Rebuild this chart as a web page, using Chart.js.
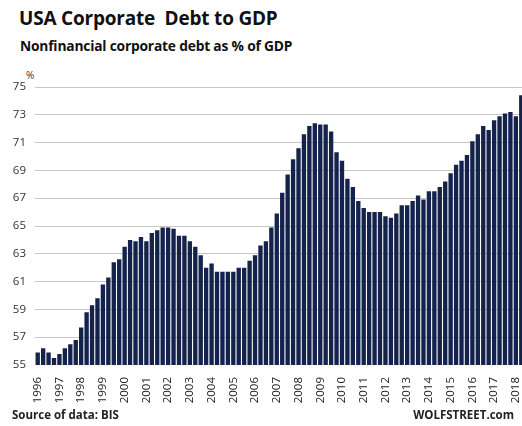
<!DOCTYPE html>
<html>
<head>
<meta charset="utf-8">
<script src="https://cdn.jsdelivr.net/npm/chart.js@4.4.1/dist/chart.umd.min.js"></script>
<style>
  html, body { margin: 0; padding: 0; background: #fff; overflow: hidden; }
  body { width: 522px; height: 426px; position: relative; font-family: "Open Sans", sans-serif; color: #111; }
  #wrap { position: absolute; left: 0; top: 0; width: 524px; height: 426px; }
  .txt { position: absolute; font-weight: bold; white-space: nowrap; }
  #title { left: 19px; top: 5px; font-size: 19px; letter-spacing: -0.2px; }
  #subtitle { left: 20px; top: 36px; font-size: 13.8px; letter-spacing: -0.2px; }
  #unit { left: 26px; top: 68px; font-size: 10px; font-weight: normal; color: #333; }
  #source { left: 12px; top: 407px; font-size: 11.5px; color: #222; }
  #brand { right: 8px; top: 407px; font-size: 11.5px; color: #222; }
</style>
</head>
<body>
<div class="txt" id="title">USA Corporate&nbsp; Debt to GDP</div>
<div class="txt" id="subtitle">Nonfinancial corporate debt as % of GDP</div>
<div class="txt" id="unit">%</div>
<div id="wrap"><canvas id="DebtChart" width="524" height="426"></canvas></div>
<div class="txt" id="source">Source of data: BIS</div>
<div class="txt" id="brand">WOLFSTREET.com</div>
<script>
    // quarterly, 1996 Q1 .. 2018 Q2
    var years = ['1996', '1997', '1998', '1999', '2000', '2001', '2002', '2003', '2004', '2005', '2006',
        '2007', '2008', '2009', '2010', '2011', '2012', '2013', '2014', '2015', '2016', '2017', '2018'];
    var quarters = ['Q1', 'Q2', 'Q3', 'Q4'];

    var debtToGdp = [
        55.9, 56.2, 55.9, 55.5, 55.8, 56.2, 56.5, 56.8,   // 1996-97
        57.7, 58.8, 59.3, 59.8, 60.8, 61.3, 62.4, 62.6,   // 1998-99
        63.5, 64.0, 63.9, 64.2, 63.9, 64.5, 64.7, 64.9,   // 2000-01
        64.9, 64.8, 64.3, 64.3, 63.9, 63.5, 62.9, 62.0,   // 2002-03
        62.3, 61.7, 61.7, 61.7, 61.7, 62.0, 62.0, 62.5,   // 2004-05
        62.9, 63.6, 63.9, 64.9, 65.9, 67.4, 68.7, 69.8,   // 2006-07
        70.6, 71.6, 72.2, 72.4, 72.3, 72.3, 71.8, 70.3,   // 2008-09
        69.7, 68.4, 67.8, 66.8, 66.3, 66.0, 66.0, 66.0,   // 2010-11
        65.7, 65.6, 65.9, 66.5, 66.5, 66.8, 67.2, 66.9,   // 2012-13
        67.5, 67.5, 67.8, 68.2, 68.8, 69.4, 69.7, 70.1,   // 2014-15
        71.1, 71.6, 72.2, 71.9, 72.6, 72.9, 73.1, 73.2,   // 2016-17
        72.9, 74.4                                        // 2018
    ];

    var yTicks = [55, 57, 59, 61, 63, 65, 67, 69, 71, 73, 75];

    var labels = [];
    years.forEach(function (y) {
        quarters.forEach(function (q) { labels.push(y + ' ' + q); });
    });
    labels = labels.slice(0, debtToGdp.length);

    var tickFont = { family: 'Open Sans', size: 11.5 };

    new Chart(document.getElementById('DebtChart'), {
        type: 'bar',
        data: {
            labels: labels,
            datasets: [{
                data: debtToGdp,
                backgroundColor: '#14224c',
                barPercentage: 0.8,
                categoryPercentage: 1.0
            }]
        },
        options: {
            responsive: false,
            animation: false,
            layout: { padding: { top: 87, right: 0, bottom: 0, left: 0 } },
            plugins: { legend: { display: false }, tooltip: { enabled: false } },
            scales: {
                x: {
                    grid: { display: false },
                    border: { display: false },
                    afterFit: function (scale) {
                        scale.height = 61;
                        scale.paddingLeft = 0;
                        scale.paddingRight = 0;
                    },
                    ticks: {
                        autoSkip: false,
                        minRotation: 90,
                        maxRotation: 90,
                        padding: 4,
                        color: '#222',
                        font: tickFont,
                        callback: function (v, i) { return i % 4 === 0 ? labels[i].slice(0, 4) : ''; }
                    }
                },
                y: {
                    min: 55,
                    max: 75,
                    afterFit: function (scale) { scale.width = 35; },
                    afterBuildTicks: function (scale) {
                        scale.ticks = yTicks.map(function (v) { return { value: v }; });
                    },
                    border: { display: false },
                    grid: {
                        color: function (ctx) { return ctx.tick && ctx.tick.value === 55 ? 'rgba(0,0,0,0)' : '#c6c6c6'; },
                        lineWidth: 1,
                        drawTicks: false
                    },
                    ticks: {
                        padding: 9,
                        color: '#333',
                        font: tickFont
                    }
                }
            }
        }
    });
</script>
</body>
</html>
